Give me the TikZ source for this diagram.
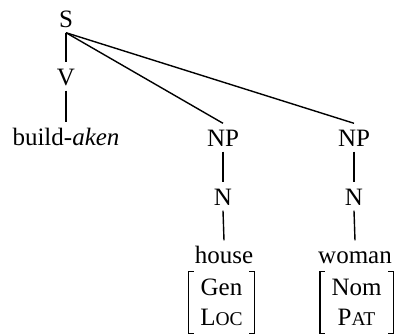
\documentclass[tikz,border=0pt]{standalone}
\usepackage{fontspec}
\setmainfont{Liberation Serif}
\usepackage{tikz}

\newcommand{\fakesc}[2]{#1{\fontsize{19.5}{30}\selectfont #2}}

\begin{document}
\begin{tikzpicture}[x=1pt,y=1pt,
    cat/.style={anchor=base,inner xsep=2pt,inner ysep=5pt,text height=17pt,text depth=0pt},
    feat/.style={align=center,inner xsep=11pt,inner ysep=7pt},
    every node/.style={font=\fontsize{25}{30}\selectfont},
    line width=1.4pt]
  \useasboundingbox (0,0) rectangle (394,-335);
  % tree
  \node[cat] (s) at (66,-27) {S};
  \node[cat] (v) at (66,-85) {V};
  \node[cat] (verb) at (66,-145) {build-\emph{aken}};
  \node[cat] (np1) at (223,-146) {NP};
  \node[cat] (np2) at (354,-146) {NP};
  \node[cat] (n1) at (223,-205) {N};
  \node[cat] (n2) at (354,-205) {N};
  \node[cat] (house) at (224,-263) {house};
  \node[cat] (woman) at (355,-263) {woman};
  % feature matrices
  \node[feat] (f1) at (221.5,-302.5) {Gen\\\fakesc{L}{OC}};
  \node[feat] (f2) at (356.5,-302.5) {Nom\\\fakesc{P}{AT}};
  \foreach \f in {f1,f2} {
    \draw ([xshift=5pt]\f.north west) -- (\f.north west) -- (\f.south west) -- ++(5pt,0);
    \draw ([xshift=-5pt]\f.north east) -- (\f.north east) -- (\f.south east) -- ++(-5pt,0);
  }
  % branches
  \draw (s.south) -- (v.north);
  \draw (v.south) -- (verb.north);
  \draw (s.south) -- (np1.north);
  \draw (s.south) -- (np2.north);
  \draw (np1.south) -- (n1.north);
  \draw (np2.south) -- (n2.north);
  \draw (n1.south) -- (house.north);
  \draw (n2.south) -- (woman.north);
\end{tikzpicture}
\end{document}
